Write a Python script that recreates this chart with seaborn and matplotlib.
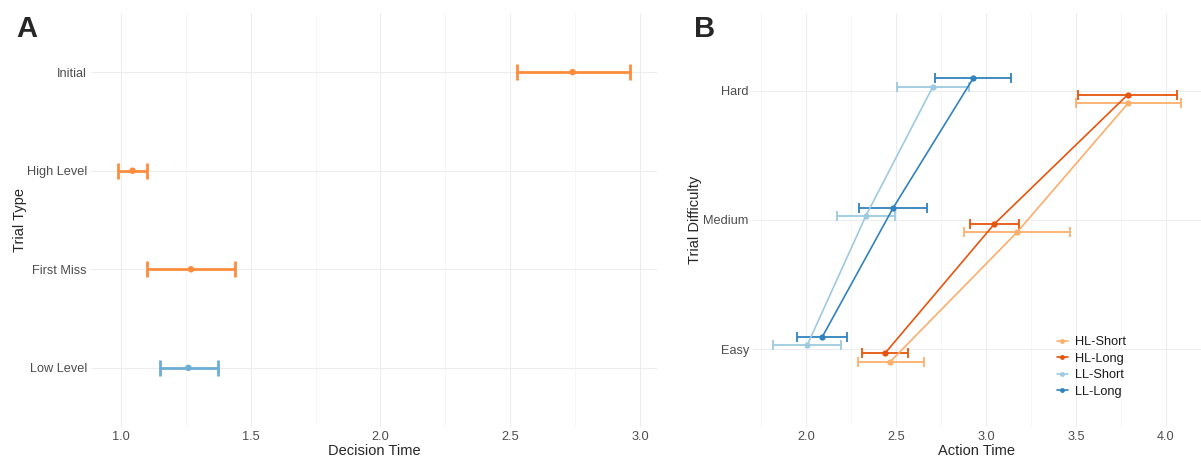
import numpy as np
import pandas as pd
import matplotlib
matplotlib.use("Agg")
import matplotlib.pyplot as plt
import seaborn as sns

# ---- Panel A: decision time by trial type ----
trial_types = ["Low Level", "First Miss", "High Level", "Initial"]
decision_mean = [1.26, 1.27, 1.045, 2.74]
decision_lo = [1.15, 1.10, 0.99, 2.525]
decision_hi = [1.375, 1.44, 1.10, 2.96]
trial_level = ["LL", "HL", "HL", "HL"]

# ---- Panel B: action time by difficulty and condition ----
difficulties = ["Easy", "Medium", "Hard"]
conditions = ["HL-Short", "HL-Long", "LL-Short", "LL-Long"]
action_mean = {
    "HL-Short": [2.469, 3.173, 3.792],
    "HL-Long": [2.438, 3.046, 3.788],
    "LL-Short": [2.006, 2.332, 2.705],
    "LL-Long": [2.089, 2.484, 2.928],
}
action_lo = {
    "HL-Short": [2.289, 2.879, 3.503],
    "HL-Long": [2.310, 2.909, 3.510],
    "LL-Short": [1.818, 2.173, 2.505],
    "LL-Long": [1.950, 2.293, 2.718],
}
action_hi = {
    "HL-Short": [2.653, 3.466, 4.082],
    "HL-Long": [2.566, 3.184, 4.063],
    "LL-Short": [2.195, 2.495, 2.907],
    "LL-Long": [2.230, 2.673, 3.141],
}

level_colors = {"HL": "#FD8D3C", "LL": "#6BAED6"}
cond_colors = {"HL-Short": "#FDAE6B", "HL-Long": "#E6550D",
               "LL-Short": "#9ECAE1", "LL-Long": "#3182BD"}

sns.set_theme(style="white")
plt.rcParams["font.family"] = ["Liberation Sans", "DejaVu Sans"]

fig = plt.figure(figsize=(12.01, 4.57), dpi=100)
W, H = 1201, 457
axA = fig.add_axes([91 / W, 1 - 427 / H, (657 - 91) / W, (427 - 13) / H])
axB = fig.add_axes([753 / W, 1 - 427 / H, (1201 - 753) / W, (427 - 13) / H])

GRID_MAJ = "#EDEDED"
GRID_MIN = "#F6F6F6"
TICK_COL = "#4D4D4D"


def style_axes(ax, xmajor, xminor):
    for s in ax.spines.values():
        s.set_visible(False)
    ax.set_xticks(xmajor)
    ax.set_xticks(xminor, minor=True)
    ax.grid(True, which="major", color=GRID_MAJ, linewidth=0.8)
    ax.grid(True, which="minor", axis="x", color=GRID_MIN, linewidth=0.7)
    ax.set_axisbelow(True)
    ax.tick_params(axis="both", which="both", length=0, labelsize=9.2,
                   labelcolor=TICK_COL)
    ax.tick_params(axis="x", pad=3)
    ax.tick_params(axis="y", pad=3)


# Panel A
dfA = pd.DataFrame({"type": trial_types, "mean": decision_mean,
                    "lo": decision_lo, "hi": decision_hi, "level": trial_level})
dfA["y"] = np.arange(len(dfA))
for _, r in dfA.iterrows():
    c = level_colors[r["level"]]
    axA.errorbar(r["mean"], r["y"], xerr=[[r["mean"] - r["lo"]], [r["hi"] - r["mean"]]],
                 fmt="none", ecolor=c, elinewidth=2.0, capsize=5.5, capthick=2.0)
sns.scatterplot(data=dfA, x="mean", y="y", hue="level", palette=level_colors,
                s=22, edgecolor="none", legend=False, ax=axA, zorder=3)
style_axes(axA, [1.0, 1.5, 2.0, 2.5, 3.0], [1.25, 1.75, 2.25, 2.75])
axA.set_xlim(0.885, 3.065)
axA.set_ylim(-0.6, len(trial_types) - 0.4)
axA.set_yticks(dfA["y"])
axA.set_yticklabels(trial_types)
axA.set_xticklabels(["1.0", "1.5", "2.0", "2.5", "3.0"])
axA.set_xlabel("Decision Time", fontsize=10.5, labelpad=0.5)
axA.set_ylabel("Trial Type", fontsize=10.5, labelpad=0)

# Panel B
rows = []
dodge_w = 0.25
for i, cond in enumerate(conditions):
    off = (i - (len(conditions) - 1) / 2) * dodge_w / len(conditions)
    for j, d in enumerate(difficulties):
        rows.append({"cond": cond, "diff": d, "y": j + off,
                     "mean": action_mean[cond][j], "lo": action_lo[cond][j],
                     "hi": action_hi[cond][j]})
dfB = pd.DataFrame(rows)

for cond in conditions:
    sub = dfB[dfB["cond"] == cond]
    axB.errorbar(sub["mean"], sub["y"],
                 xerr=[sub["mean"] - sub["lo"], sub["hi"] - sub["mean"]],
                 fmt="none", ecolor=cond_colors[cond], elinewidth=1.3,
                 capsize=3.5, capthick=1.3)
sns.lineplot(data=dfB, x="mean", y="y", hue="cond", hue_order=conditions,
             palette=cond_colors, sort=False, estimator=None, linewidth=1.2,
             marker="o", markersize=4.5, markeredgewidth=0, ax=axB)
style_axes(axB, [2.0, 2.5, 3.0, 3.5, 4.0], [1.75, 2.25, 2.75, 3.25, 3.75])
axB.set_xlim(1.705, 4.195)
axB.set_ylim(-0.6, len(difficulties) - 0.4)
axB.set_yticks(range(len(difficulties)))
axB.set_yticklabels(difficulties)
axB.set_xticklabels(["2.0", "2.5", "3.0", "3.5", "4.0"])
axB.set_xlabel("Action Time", fontsize=10.5, labelpad=0.5)
axB.set_ylabel("Trial Difficulty", fontsize=10.5, labelpad=1)
leg = axB.legend(loc="center left", bbox_to_anchor=(0.665, 0.145), frameon=False,
                 fontsize=9.2, handlelength=0.8, handletextpad=0.6,
                 labelspacing=0.36, title=None, borderpad=0)
for t in leg.get_texts():
    t.set_color("#1A1A1A")
for h in leg.legend_handles:
    h.set_markersize(3.5)

# Panel tags
fig.text(16 / W, 1 - 29 / H, "A", fontsize=21, fontweight="heavy", va="center", ha="left")
fig.text(694 / W, 1 - 29 / H, "B", fontsize=21, fontweight="heavy", va="center", ha="left")

fig.savefig("out.png", dpi=100)
